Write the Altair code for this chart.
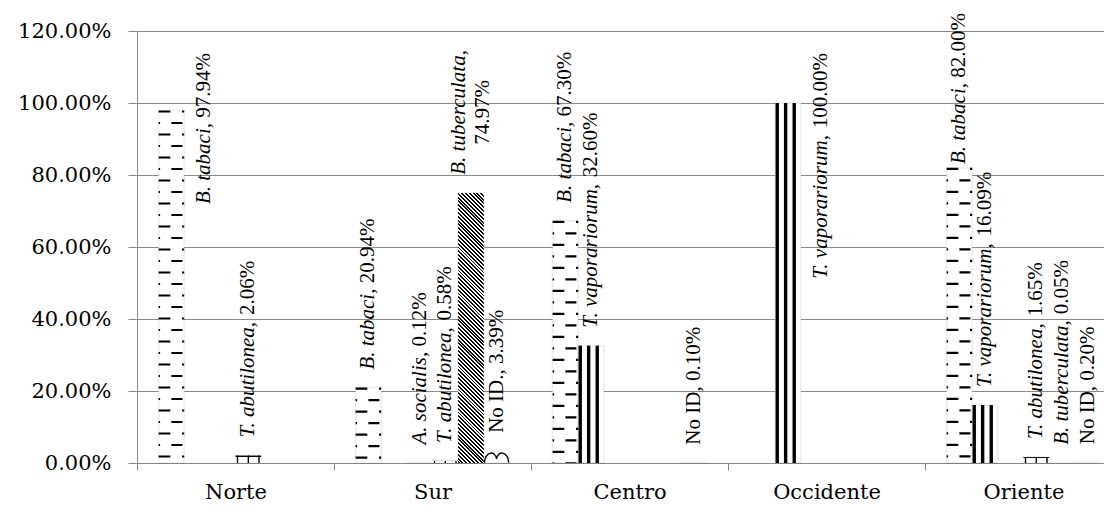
import altair as alt
import pandas as pd

# ---------------- data ----------------
regions = ["Norte", "Sur", "Centro", "Occidente", "Oriente"]
species = ["B. tabaci", "T. vaporariorum", "A. socialis", "T. abutilonea", "B. tuberculata", "No ID"]
italic_species = ["B. tabaci", "T. vaporariorum", "A. socialis", "T. abutilonea", "B. tuberculata"]

b_tabaci = [0.9794, 0.2094, 0.6730, None, 0.8200]
t_vaporariorum = [None, None, 0.3260, 1.0000, 0.1609]
a_socialis = [None, 0.0012, None, None, None]
t_abutilonea = [0.0206, 0.0058, None, None, 0.0165]
b_tuberculata = [None, 0.7497, None, None, 0.0005]
no_id = [None, 0.0339, 0.0010, None, 0.0020]
label_name_override = {("Sur", "No ID"): "No ID."}

series_values = {
    "B. tabaci": b_tabaci,
    "T. vaporariorum": t_vaporariorum,
    "A. socialis": a_socialis,
    "T. abutilonea": t_abutilonea,
    "B. tuberculata": b_tuberculata,
    "No ID": no_id,
}

# ---------------- layout constants ----------------
VIEW_W = 967          # visible part of the plot (page is 1104 wide)
X_RANGE = 985         # full extent of the category axis (runs past the page edge)
PLOT_H = 432
YMAX = 1.2
PX = PLOT_H / YMAX    # pixels per 1.0 (=100%)
OUTER = 0.843         # outer padding of the series slots (in slot units)
NSLOT = len(species) + 2 * OUTER
SLOT_W = X_RANGE / len(regions) / NSLOT
GRAY = "#8a8a8a"
FS = 21               # data-label font size
GAP = 18              # gap between bar top and label
TOP_END = 450         # highest point (px above baseline) a label may reach
SIDE_END = 410
SIDE_DY = 33
WRAP_DY = 12

# Times / Liberation Serif advance widths (1/1000 em)
REG = {" ": 250, ".": 250, ",": 250, "%": 833, "N": 722, "o": 500, "I": 333, "D": 722}
ITA = {" ": 250, ".": 250, ",": 250, "A": 611, "B": 611, "T": 556, "a": 500, "b": 500,
       "c": 444, "e": 444, "i": 278, "l": 278, "m": 722, "n": 500, "o": 500, "p": 500,
       "r": 389, "s": 389, "t": 278, "u": 500, "v": 444}


def tw(s, italic):
    t = ITA if italic else REG
    return sum(t.get(ch, 500) for ch in s) / 1000 * FS


rows = []
labels = []
for si, sp in enumerate(species):
    for reg, v in zip(regions, series_values[sp]):
        if v is None:
            continue
        rows.append({"region": reg, "species": sp, "sp_idx": si, "value": v})
        name = label_name_override.get((reg, sp), sp)
        pct = f"{v * 100:.2f}%"
        if sp in italic_species:
            it, rm = name + ",", pct
        else:
            it, rm = "", name + ", " + pct
        li = tw(it, True)
        gap_sp = tw(" ", False) if it else 0
        lr = tw(rm, False)
        L = li + gap_sp + lr
        h = v * PX
        if h + GAP + L <= TOP_END:
            mode, start = "above", h + GAP
        elif TOP_END - L >= h + 1:
            mode, start = "above", TOP_END - L
        elif h + GAP + max(li, lr) <= PLOT_H:
            mode, start = "wrap", None
        else:
            mode, start = "side", SIDE_END - L
        if mode == "wrap":
            yc = (h + GAP + max(li, lr) / 2) / PX
            labels.append({"region": reg, "species": sp, "text": it, "y": yc, "part": "it", "mode": mode})
            labels.append({"region": reg, "species": sp, "text": rm, "y": yc, "part": "rm", "mode": mode})
        else:
            if it:
                labels.append({"region": reg, "species": sp, "text": it, "y": start / PX, "part": "it", "mode": mode})
            labels.append({"region": reg, "species": sp, "text": rm, "y": (start + li + gap_sp) / PX,
                           "part": "rm", "mode": mode})

bars = pd.DataFrame(rows)
labs = pd.DataFrame(labels)

# ---------------- encodings ----------------
AX_X = alt.Axis(title=None, labelFont="DejaVu Serif", labelFontSize=21, labelColor="black",
                domainColor=GRAY, tickColor=GRAY, tickSize=7, tickBand="extent",
                labelPadding=11, grid=False, labelAngle=0)
AX_Y = alt.Axis(title=None, format=".2%", values=[0, 0.2, 0.4, 0.6, 0.8, 1.0, 1.2],
                labelFont="DejaVu Serif", labelFontSize=21, labelColor="black",
                domainColor=GRAY, tickColor=GRAY, gridColor=GRAY, tickSize=9, labelPadding=17,
                grid=True)
X = alt.X("region:N", sort=regions, axis=AX_X,
          scale=alt.Scale(domain=regions, range=[0, X_RANGE], paddingInner=0, paddingOuter=0))
XO_SCALE = alt.Scale(type="band", domain=species, paddingInner=0, paddingOuter=OUTER)
XO = alt.XOffset("species:N", scale=XO_SCALE, sort=species)
XO_POS = alt.XOffset("pos:Q", scale=alt.Scale(domain=[0, 1], nice=False, zero=False))


def Y(field="value"):
    return alt.Y(f"{field}:Q", axis=AX_Y, scale=alt.Scale(domain=[0, YMAX], nice=False, zero=True))


def sp_filter(name):
    return alt.datum.species == name


base = alt.Chart(bars)

white = base.mark_bar(fill="white", stroke="#000", strokeOpacity=0.06, strokeWidth=2).encode(
    x=X, xOffset=XO, y=Y())


def rule_layer(name, frac_px, width, dash=None, dash_offset=None):
    """A pattern line inside the slot of series `name`, `frac_px` pixels from the slot's left edge."""
    frac = frac_px / SLOT_W
    kw = dict(color="black", strokeWidth=width, strokeCap="butt")
    if dash is not None:
        kw["strokeDash"] = dash
    if dash_offset is not None:
        kw["strokeDashOffset"] = dash_offset
    return base.transform_filter(sp_filter(name)).transform_calculate(
        pos=f"({OUTER} + datum.sp_idx + {frac}) / {NSLOT}").mark_rule(**kw).encode(
        x=X, xOffset=XO_POS, y=Y(), y2=alt.datum(0))


# B. tabaci: dashed horizontal pattern (two staggered rows of dashes)
tab_layers = [
    rule_layer("B. tabaci", 5.85, 11.7, [2.2, 20.8], 0),
    rule_layer("B. tabaci", SLOT_W - 1.1, 2.2, [2.2, 20.8], 0),
    rule_layer("B. tabaci", 18.3, 11.0, [2.2, 20.8], 11.5),
    rule_layer("B. tabaci", 0.75, 1.5, [2.2, 20.8], 11.5),
]

# T. vaporariorum: wide vertical stripes
vap_layers = [rule_layer("T. vaporariorum", px, 3.4) for px in (2.0, 10.4, 19.0)]

# T. abutilonea: brick-like lines
abu_grad = alt.LinearGradient(gradient="linear", x1=0, y1=0, x2=0, y2=1, stops=[
    alt.GradientStop(offset=0, color="black"), alt.GradientStop(offset=0.2, color="black"),
    alt.GradientStop(offset=0.2, color="white"), alt.GradientStop(offset=1, color="white")])
abu_bar = base.transform_filter(sp_filter("T. abutilonea")).mark_bar(fill=abu_grad).encode(
    x=X, xOffset=XO, y=Y())
abu_layers = [abu_bar] + [rule_layer("T. abutilonea", px, 1.4) for px in (2.0, 12.8, 23.5)]

# B. tuberculata: dense downward diagonal hatching (built for the tallest bar)
H_tub = max(v for v in b_tuberculata if v is not None) * PX
r = H_tub / SLOT_W
s = (1 + r) / (1 + r * r)
span = (SLOT_W + H_tub) / 2 ** 0.5
n_per = int(round(span / 2.7))
stops = []
for k in range(n_per):
    a, m, b = k / n_per, (k + 0.5) / n_per, (k + 1) / n_per
    stops += [alt.GradientStop(offset=a, color="black"), alt.GradientStop(offset=m, color="black"),
              alt.GradientStop(offset=m, color="white"), alt.GradientStop(offset=b, color="white")]
tub_grad = alt.LinearGradient(gradient="linear", x1=0, y1=1, x2=s, y2=1 - s * r, stops=stops)
tub_bar = base.transform_filter(sp_filter("B. tuberculata")).mark_bar(fill=tub_grad).encode(
    x=X, xOffset=XO, y=Y())

# No ID: wave pattern glyph (only where the bar is tall enough to show it)
WAVE = "M -0.95 0.45 C -0.85 -0.5 -0.1 -0.5 0 0.15 C 0.1 -0.5 0.85 -0.5 0.95 0.45"
wave = base.transform_filter((alt.datum.species == "No ID") & (alt.datum.value > 0.02)).transform_calculate(
    mid="datum.value / 2").mark_point(shape=WAVE, filled=False, stroke="black", strokeWidth=1.3,
                                       size=SLOT_W ** 2, opacity=1).encode(
    x=X, xOffset=XO, y=Y("mid"))

# ---------------- labels ----------------
lab = alt.Chart(labs)


def text_layer(mode, part, **kw):
    style = dict(font="Liberation Serif", fontSize=FS, color="black", angle=270, baseline="middle")
    if part == "it":
        style["fontStyle"] = "italic"
    style.update(kw)
    return lab.transform_filter((alt.datum.mode == mode) & (alt.datum.part == part)).mark_text(**style).encode(
        x=X, xOffset=XO, y=Y("y"), text="text:N")


label_layers = [
    text_layer("above", "it", align="left"),
    text_layer("above", "rm", align="left"),
    text_layer("side", "it", align="left", dy=SIDE_DY),
    text_layer("side", "rm", align="left", dy=SIDE_DY),
    text_layer("wrap", "it", align="center", dy=-WRAP_DY),
    text_layer("wrap", "rm", align="center", dy=WRAP_DY),
]

chart = alt.layer(white, *tab_layers, *vap_layers, *abu_layers, tub_bar, wave, *label_layers).resolve_scale(
    xOffset="independent"
).properties(
    width=VIEW_W, height=PLOT_H,
    autosize=alt.AutoSizeParams(type="none"),
    padding={"left": 137, "top": 31, "right": 0, "bottom": 45},
).configure_view(stroke=None).configure(background="white")

chart.save("out.html", embed_options={"renderer": "svg", "actions": False})
